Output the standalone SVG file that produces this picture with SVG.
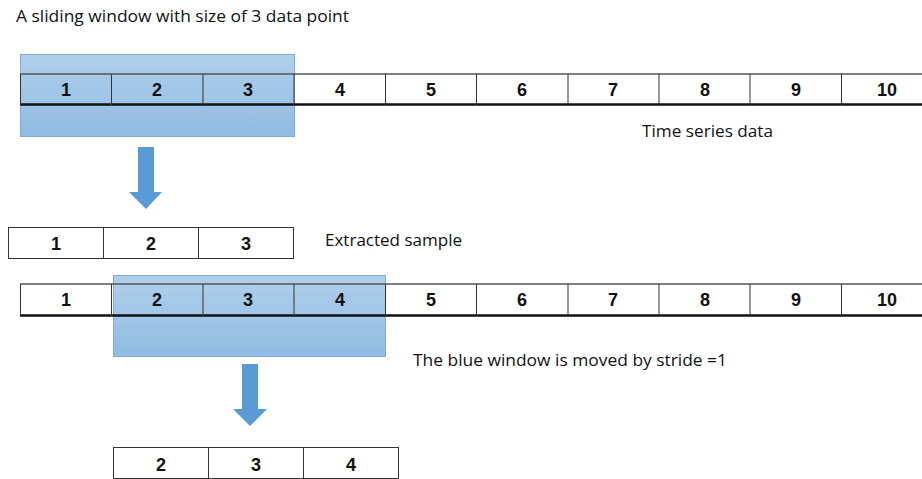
<svg xmlns="http://www.w3.org/2000/svg" width="922" height="479" viewBox="0 0 922 479">
<style>
.lbl{font-family:"Open Sans","Liberation Sans",sans-serif;font-size:17px;fill:#111}
.num{font-family:"Liberation Sans","Open Sans",sans-serif;font-size:18px;font-weight:bold;fill:#111;text-anchor:middle}
.cell{fill:none;stroke:#333;stroke-width:1}
.bot{stroke:#111;stroke-width:2.5}
.top{stroke:#555;stroke-width:1.5}
.win{fill:url(#wg);stroke:#7eaadf;stroke-width:1}
.arr{fill:#5b9bd5}
</style>
<defs>
<linearGradient id="wg" x1="0" y1="0" x2="0" y2="1">
<stop offset="0" stop-color="#5b9bd5" stop-opacity="0.48"/>
<stop offset="1" stop-color="#5b9bd5" stop-opacity="0.68"/>
</linearGradient>
</defs>
<rect width="922" height="479" fill="#fff"/>
<text class="lbl" x="16" y="22" textLength="333" lengthAdjust="spacingAndGlyphs">A sliding window with size of 3 data point</text>

<g id="window1"><rect class="win" x="20.5" y="54.5" width="274" height="82"/></g>
<g id="series1">
<line class="top" x1="20" y1="74" x2="922" y2="74"/>
<line class="bot" x1="20" y1="104.5" x2="922" y2="104.5"/>
<g class="cell">
<line x1="20.5" y1="74" x2="20.5" y2="105"/><line x1="111.5" y1="74" x2="111.5" y2="105"/><line x1="203" y1="74" x2="203" y2="105"/><line x1="294" y1="74" x2="294" y2="105"/><line x1="385.5" y1="74" x2="385.5" y2="105"/><line x1="476.5" y1="74" x2="476.5" y2="105"/><line x1="568" y1="74" x2="568" y2="105"/><line x1="659" y1="74" x2="659" y2="105"/><line x1="750" y1="74" x2="750" y2="105"/><line x1="841.5" y1="74" x2="841.5" y2="105"/>
</g>
<text class="num" y="96"><tspan x="66">1</tspan><tspan x="157">2</tspan><tspan x="248">3</tspan><tspan x="340">4</tspan><tspan x="431">5</tspan><tspan x="522">6</tspan><tspan x="613">7</tspan><tspan x="705">8</tspan><tspan x="796">9</tspan><tspan x="887">10</tspan></text>
</g>
<text class="lbl" x="642" y="137" textLength="131" lengthAdjust="spacingAndGlyphs">Time series data</text>

<g id="connectors">
<path class="arr" d="M138 147H154V192H162L146 209L129 192H138Z"/>
<path class="arr" d="M242 364H258V409H267L250 426L233 409H242Z"/>
</g>

<g id="sample1">
<rect class="cell" x="8.5" y="227.5" width="285" height="31"/>
<line class="cell" x1="103.5" y1="227" x2="103.5" y2="259"/>
<line class="cell" x1="198.5" y1="227" x2="198.5" y2="259"/>
<text class="num" y="250"><tspan x="56">1</tspan><tspan x="151">2</tspan><tspan x="246">3</tspan></text>
</g>
<text class="lbl" x="325" y="246" textLength="137" lengthAdjust="spacingAndGlyphs">Extracted sample</text>

<g id="window2"><rect class="win" x="113.5" y="275.5" width="272" height="81"/></g>
<g id="series2">
<line class="top" x1="20" y1="284" x2="922" y2="284"/>
<line class="bot" x1="20" y1="315.5" x2="922" y2="315.5"/>
<g class="cell">
<line x1="20.5" y1="284" x2="20.5" y2="316"/><line x1="111.5" y1="284" x2="111.5" y2="316"/><line x1="203" y1="284" x2="203" y2="316"/><line x1="294" y1="284" x2="294" y2="316"/><line x1="385.5" y1="284" x2="385.5" y2="316"/><line x1="476.5" y1="284" x2="476.5" y2="316"/><line x1="568" y1="284" x2="568" y2="316"/><line x1="659" y1="284" x2="659" y2="316"/><line x1="750" y1="284" x2="750" y2="316"/><line x1="841.5" y1="284" x2="841.5" y2="316"/>
</g>
<text class="num" y="306"><tspan x="66">1</tspan><tspan x="157">2</tspan><tspan x="248">3</tspan><tspan x="340">4</tspan><tspan x="431">5</tspan><tspan x="522">6</tspan><tspan x="613">7</tspan><tspan x="705">8</tspan><tspan x="796">9</tspan><tspan x="887">10</tspan></text>
</g>
<text class="lbl" x="413" y="366" textLength="314" lengthAdjust="spacingAndGlyphs">The blue window is moved by stride =1</text>

<g id="sample2">
<rect class="cell" x="113.5" y="447.5" width="285" height="31"/>
<line class="cell" x1="208.5" y1="447" x2="208.5" y2="479"/>
<line class="cell" x1="303.5" y1="447" x2="303.5" y2="479"/>
<text class="num" y="471"><tspan x="161">2</tspan><tspan x="256">3</tspan><tspan x="351">4</tspan></text>
</g>
</svg>
